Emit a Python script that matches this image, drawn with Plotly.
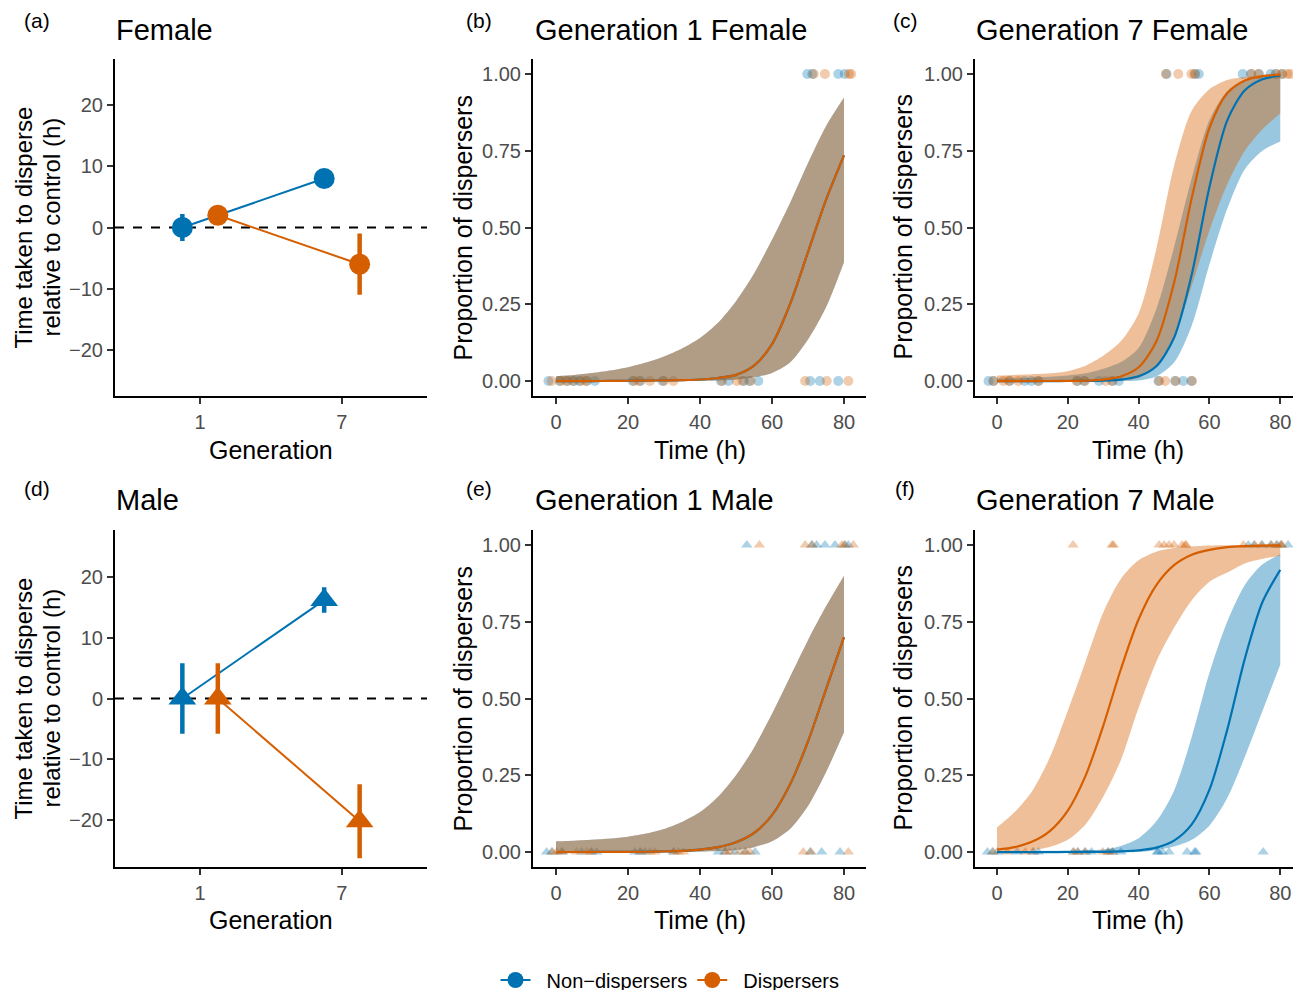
import plotly.graph_objects as go

# ---------------- data ----------------
generations = ["1", "7"]
group_names = ["\u00a0\u00a0Non\u2212dispersers", "\u00a0\u00a0Dispersers"]

# panel (a)/(d): time taken to disperse relative to control (h)
female_nd = [0.0, 8.0]
female_nd_err = [2.2, 0.8]
female_d = [2.0, -6.0]
female_d_err = [1.5, 5.0]
male_nd = [0.0, 16.2]
male_nd_err = [5.8, 2.1]
male_d = [0.0, -20.2]
male_d_err = [5.8, 6.1]

# fitted curves (proportion of dispersers) on a time grid (h)
time_grid = [0, 5, 10, 15, 20, 25, 30, 35, 40, 45, 50, 55, 60, 65, 70, 75, 80]

# Generation 1 Female (both groups overlap)
f1_line = [0.0, 0.0, 0.0, 0.0005, 0.001, 0.0015, 0.002, 0.003, 0.005, 0.01, 0.02, 0.05, 0.12, 0.25, 0.42, 0.59, 0.735]
f1_upper = [0.016, 0.02, 0.026, 0.034, 0.045, 0.06, 0.08, 0.106, 0.14, 0.19, 0.26, 0.35, 0.46, 0.58, 0.71, 0.83, 0.923]
f1_lower = [0.0, 0.0, 0.0, 0.0, 0.0, 0.0, 0.0005, 0.001, 0.001, 0.002, 0.005, 0.012, 0.026, 0.06, 0.135, 0.24, 0.387]

# Generation 7 Female
f7_nd_line = [0.0, 0.0, 0.0, 0.0, 0.0001, 0.0005, 0.0015, 0.0048, 0.0154, 0.048, 0.141, 0.347, 0.632, 0.848, 0.947, 0.983, 0.995]
f7_nd_upper = [0.008, 0.009, 0.011, 0.014, 0.018, 0.025, 0.04, 0.062, 0.108, 0.235, 0.435, 0.66, 0.85, 0.944, 0.98, 0.99, 0.995]
f7_nd_lower = [0.0, 0.0, 0.0, 0.0, 0.0, 0.0, 0.0, 0.0005, 0.002, 0.015, 0.06, 0.18, 0.38, 0.56, 0.69, 0.75, 0.78]
f7_d_line = [0.0, 0.0, 0.0, 0.0002, 0.0005, 0.0015, 0.0047, 0.015, 0.045, 0.129, 0.319, 0.596, 0.824, 0.937, 0.979, 0.993, 0.998]
f7_d_upper = [0.018, 0.02, 0.022, 0.025, 0.032, 0.05, 0.082, 0.13, 0.22, 0.43, 0.70, 0.88, 0.95, 0.98, 0.99, 0.995, 0.998]
f7_d_lower = [0.0, 0.0, 0.0, 0.0, 0.0, 0.0, 0.0005, 0.002, 0.01, 0.05, 0.14, 0.31, 0.49, 0.64, 0.75, 0.82, 0.871]

# Generation 1 Male (both groups overlap)
m1_line = [0.0, 0.0001, 0.0002, 0.0004, 0.0006, 0.001, 0.002, 0.004, 0.008, 0.016, 0.032, 0.062, 0.12, 0.22, 0.36, 0.53, 0.70]
m1_upper = [0.035, 0.037, 0.04, 0.044, 0.05, 0.06, 0.075, 0.098, 0.13, 0.18, 0.25, 0.34, 0.45, 0.57, 0.69, 0.80, 0.90]
m1_lower = [0.0, 0.0, 0.0, 0.0, 0.0, 0.0, 0.0, 0.0, 0.001, 0.003, 0.007, 0.016, 0.035, 0.075, 0.15, 0.26, 0.39]

# Generation 7 Male
m7_nd_line = [0.0, 0.0, 0.0, 0.0, 0.0001, 0.0003, 0.0008, 0.0022, 0.0057, 0.0145, 0.037, 0.09, 0.203, 0.397, 0.63, 0.815, 0.919]
m7_nd_upper = [0.002, 0.002, 0.003, 0.004, 0.005, 0.006, 0.008, 0.02, 0.045, 0.1, 0.2, 0.375, 0.584, 0.75, 0.87, 0.937, 0.97]
m7_nd_lower = [0.0, 0.0, 0.0, 0.0, 0.0, 0.0, 0.0, 0.0, 0.0, 0.007, 0.018, 0.04, 0.086, 0.175, 0.31, 0.46, 0.61]
m7_d_line = [0.008, 0.016, 0.034, 0.069, 0.135, 0.248, 0.411, 0.596, 0.758, 0.869, 0.934, 0.968, 0.984, 0.993, 0.9965, 0.998, 0.999]
m7_d_upper = [0.08, 0.13, 0.2, 0.31, 0.46, 0.62, 0.78, 0.89, 0.95, 0.978, 0.99, 0.995, 0.998, 0.999, 0.999, 1.0, 1.0]
m7_d_lower = [0.0005, 0.002, 0.006, 0.017, 0.04, 0.09, 0.18, 0.3, 0.47, 0.62, 0.73, 0.82, 0.88, 0.91, 0.94, 0.955, 0.965]

# jittered raw observations: times (h) of individuals at 0 (not dispersed) and 1 (dispersed)
f1_nd_y0 = [-2.1, 1.0, 3.2, 5.0, 6.5, 8.6, 10.8, 21.3, 23.5, 29.6, 45.8, 47.9, 52.2, 53.7, 56.2, 70.6, 73.3, 78.4]
f1_d_y0 = [-1.2, 1.3, 2.8, 4.6, 6.9, 8.3, 21.7, 23.1, 26.1, 30.0, 32.6, 46.2, 50.2, 51.8, 54.1, 69.2, 75.2, 81.2]
f1_nd_y1 = [69.8, 71.2, 78.4, 80.2]
f1_d_y1 = [71.6, 74.7, 81.4, 82.0]

f7_nd_y0 = [-2.4, -1.0, 3.6, 7.8, 9.7, 11.6, 22.7, 24.6, 28.8, 32.5, 34.4, 45.6, 50.3, 52.6, 54.9]
f7_d_y0 = [-1.0, 1.8, 3.4, 6.0, 11.8, 22.5, 24.8, 30.7, 32.7, 45.8, 47.5, 50.5, 55.1]
f7_nd_y1 = [47.9, 56.0, 57.0, 69.4, 71.7, 74.0, 77.3, 78.7, 80.6]
f7_d_y1 = [47.7, 51.2, 54.9, 55.8, 71.9, 73.8, 78.9, 80.4, 82.0, 82.9]

m1_nd_y0 = [-2.6, -1.2, 1.6, 7.1, 9.9, 11.3, 21.9, 23.3, 24.7, 32.6, 45.1, 46.9, 49.7, 52.5, 55.3, 70.6, 73.8, 78.9]
m1_d_y0 = [-1.0, 0.2, 1.8, 5.7, 8.5, 9.7, 23.5, 26.1, 27.5, 32.8, 34.0, 35.4, 47.1, 48.3, 51.1, 52.7, 53.9, 68.7, 70.8, 81.2]
m1_nd_y1 = [53.0, 71.0, 72.4, 74.7, 77.5, 80.3, 81.2]
m1_d_y1 = [56.5, 69.2, 71.2, 79.4, 80.1, 82.6]

m7_nd_y0 = [-2.7, -1.3, 0.1, 5.7, 10.3, 11.7, 21.5, 22.9, 24.8, 26.7, 31.3, 32.7, 35.0, 45.3, 45.5, 46.7, 48.6, 53.7, 55.8, 56.2, 75.2]
m7_d_y0 = [-1.1, 2.9, 8.0, 10.1, 21.7, 22.7, 25.0, 29.9, 31.5, 32.5]
m7_nd_y1 = [71.0, 72.6, 74.9, 77.3, 79.1, 80.1, 82.2]
m7_d_y1 = [21.5, 32.5, 32.9, 45.8, 47.2, 48.6, 50.0, 52.3, 53.2, 53.4, 69.6, 72.8, 74.7, 77.5, 78.9, 80.3, 80.5]

# ---------------- style ----------------
BLUE = "#0072B2"
ORANGE = "#D55E00"
BLUE_PT = "rgba(0,114,178,0.32)"
ORANGE_PT = "rgba(213,94,0,0.32)"
BLUE_RIB = "rgba(0,114,178,0.4)"
ORANGE_RIB = "rgba(213,94,0,0.4)"
FONT = "Liberation Sans"
OX, OY = 8, 8          # page body margin
W, H = 1301 - OX, 1000


def px(x):
    return (x - OX) / W


def py(y):
    return 1 - (y - OY) / H


fig = go.Figure()

# ---------- panels (a) and (d) ----------
dodge = 0.125
pos = list(range(1, len(generations) + 1))


def summary_panel(xa, ya, nd, nd_err, d, d_err, symbol, size, legend):
    for vals, errs, col, off, name in [(nd, nd_err, BLUE, -dodge, group_names[0]),
                                       (d, d_err, ORANGE, dodge, group_names[1])]:
        fig.add_trace(go.Scatter(
            x=[p + off for p in pos], y=vals, mode="lines+markers",
            line=dict(color=col, width=2),
            marker=dict(color=col, size=size, symbol=symbol),
            error_y=dict(type="data", array=errs, color=col, thickness=4.5, width=0),
            name=name, showlegend=legend, xaxis=xa, yaxis=ya,
        ))


summary_panel("x", "y", female_nd, female_nd_err, female_d, female_d_err, "circle", 21, True)
summary_panel("x4", "y4", male_nd, male_nd_err, male_d, male_d_err, "triangle-up", 24, False)


# ---------- curve panels ----------
def curve_panel(xa, ya, nd_curves, d_curves, nd_pts, d_pts, symbol):
    for pts, col in [(nd_pts, BLUE_PT), (d_pts, ORANGE_PT)]:
        y0, y1 = pts
        fig.add_trace(go.Scatter(
            x=y0 + y1, y=[0] * len(y0) + [1] * len(y1), mode="markers",
            marker=dict(color=col, size=10, symbol=symbol, line=dict(width=0)),
            cliponaxis=False,
            showlegend=False, xaxis=xa, yaxis=ya, hoverinfo="skip"))
    for curves, col in [(nd_curves, BLUE_RIB), (d_curves, ORANGE_RIB)]:
        line, upper, lower = curves
        fig.add_trace(go.Scatter(
            x=time_grid, y=lower, mode="lines",
            line=dict(width=0, shape="spline", smoothing=0.8),
            showlegend=False, xaxis=xa, yaxis=ya, hoverinfo="skip"))
        fig.add_trace(go.Scatter(
            x=time_grid, y=upper, mode="lines", fill="tonexty", fillcolor=col,
            line=dict(width=0, shape="spline", smoothing=0.8),
            showlegend=False, xaxis=xa, yaxis=ya, hoverinfo="skip"))
    for curves, col in [(nd_curves, BLUE), (d_curves, ORANGE)]:
        fig.add_trace(go.Scatter(
            x=time_grid, y=curves[0], mode="lines",
            line=dict(color=col, width=2.2, shape="spline", smoothing=0.8),
            showlegend=False, xaxis=xa, yaxis=ya, hoverinfo="skip"))


curve_panel("x2", "y2", (f1_line, f1_upper, f1_lower), (f1_line, f1_upper, f1_lower),
            (f1_nd_y0, f1_nd_y1), (f1_d_y0, f1_d_y1), "circle")
curve_panel("x3", "y3", (f7_nd_line, f7_nd_upper, f7_nd_lower), (f7_d_line, f7_d_upper, f7_d_lower),
            (f7_nd_y0, f7_nd_y1), (f7_d_y0, f7_d_y1), "circle")
curve_panel("x5", "y5", (m1_line, m1_upper, m1_lower), (m1_line, m1_upper, m1_lower),
            (m1_nd_y0, m1_nd_y1), (m1_d_y0, m1_d_y1), "triangle-up")
curve_panel("x6", "y6", (m7_nd_line, m7_nd_upper, m7_nd_lower), (m7_d_line, m7_d_upper, m7_d_lower),
            (m7_nd_y0, m7_nd_y1), (m7_d_y0, m7_d_y1), "triangle-up")

# ---------- axes ----------
cols = [(115, 427), (533, 866), (975, 1293)]
rows = [(58.6, 396.4), (529.6, 867.4)]

axis_common = dict(showline=True, linecolor="black", linewidth=2, ticks="outside",
                   ticklen=6, tickwidth=2, tickcolor="#333333", showgrid=False,
                   zeroline=False, ticklabeloverflow="allow",
                   tickfont=dict(family=FONT, size=20, color="#4D4D4D"))

layout = dict(
    width=W, height=H, margin=dict(l=0, r=0, t=0, b=0, autoexpand=False),
    paper_bgcolor="white", plot_bgcolor="white",
    font=dict(family=FONT, color="black"),
    showlegend=True,
    legend=dict(orientation="h", x=px(670), xanchor="center", y=py(980), yanchor="middle",
                font=dict(family=FONT, size=20, color="black"), itemwidth=30,
                traceorder="normal", bgcolor="rgba(0,0,0,0)"),
)

idx = 0
for r, (top, bot) in enumerate(rows):
    for c, (left, right) in enumerate(cols):
        idx += 1
        xname = "xaxis" if idx == 1 else f"xaxis{idx}"
        yname = "yaxis" if idx == 1 else f"yaxis{idx}"
        anchor_x = "y" if idx == 1 else f"y{idx}"
        anchor_y = "x" if idx == 1 else f"x{idx}"
        xa = dict(axis_common, domain=[px(left), px(right)], anchor=anchor_x, ticklabelstandoff=1)
        ya = dict(axis_common, domain=[py(bot), py(top)], anchor=anchor_y)
        if c == 0:
            xa.update(range=[0.4, 2.6], tickvals=pos, ticktext=generations)
            lim = 27.6 if r == 0 else 27.8
            ya.update(range=[-lim, lim], tickvals=[-20, -10, 0, 10, 20],
                      ticktext=["\u221220", "\u221210", "0", "10", "20"])
        elif c == 1:
            xa.update(range=[-6.39, 86.11], tickvals=[0, 20, 40, 60, 80])
            ya.update(range=[-0.05, 1.05], tickvals=[0, 0.25, 0.5, 0.75, 1.0],
                      ticktext=["0.00", "0.25", "0.50", "0.75", "1.00"])
        else:
            xa.update(range=[-6.21, 83.6], tickvals=[0, 20, 40, 60, 80])
            ya.update(range=[-0.05, 1.05], tickvals=[0, 0.25, 0.5, 0.75, 1.0],
                      ticktext=["0.00", "0.25", "0.50", "0.75", "1.00"])
        layout[xname] = xa
        layout[yname] = ya

fig.update_layout(**layout)

for yref in ["y", "y4"]:
    fig.add_shape(type="line", xref="x domain" if yref == "y" else "x4 domain", yref=yref,
                  x0=0, x1=1, y0=0, y1=0, line=dict(color="black", width=2, dash="dash"),
                  layer="below")

# ---------- text ----------
ann = []


def text(x, y, s, size, xanchor="center", angle=0):
    ann.append(dict(x=px(x), y=py(y), xref="paper", yref="paper", text=s, showarrow=False,
                    xanchor=xanchor, yanchor="middle", textangle=angle,
                    font=dict(family=FONT, size=size, color="black")))


labels = ["(a)", "(b)", "(c)", "(d)", "(e)", "(f)"]
label_x = [37, 479, 905]
label_y = [20, 488]
titles = [["Female", "Generation 1 Female", "Generation 7 Female"],
          ["Male", "Generation 1 Male", "Generation 7 Male"]]
title_x = [114, 533, 974]
title_y = [30, 500]
xtitle_y = [450, 920]
for r in range(2):
    for c in range(3):
        text(label_x[c], label_y[r], labels[r * 3 + c], 21)
        text(title_x[c], title_y[r], titles[r][c], 29, xanchor="left")
    text(271, xtitle_y[r], "Generation", 25)
    text(700, xtitle_y[r], "Time (h)", 25)
    text(1138, xtitle_y[r], "Time (h)", 25)
    mid = (rows[r][0] + rows[r][1]) / 2
    text(23, mid, "Time taken to disperse", 24, angle=-90)
    text(51, mid, "relative to control (h)", 24, angle=-90)
    text(462, mid, "Proportion of dispersers", 25, angle=-90)
    text(902, mid, "Proportion of dispersers", 25, angle=-90)

fig.update_layout(annotations=ann)

fig.write_html("out.html")
